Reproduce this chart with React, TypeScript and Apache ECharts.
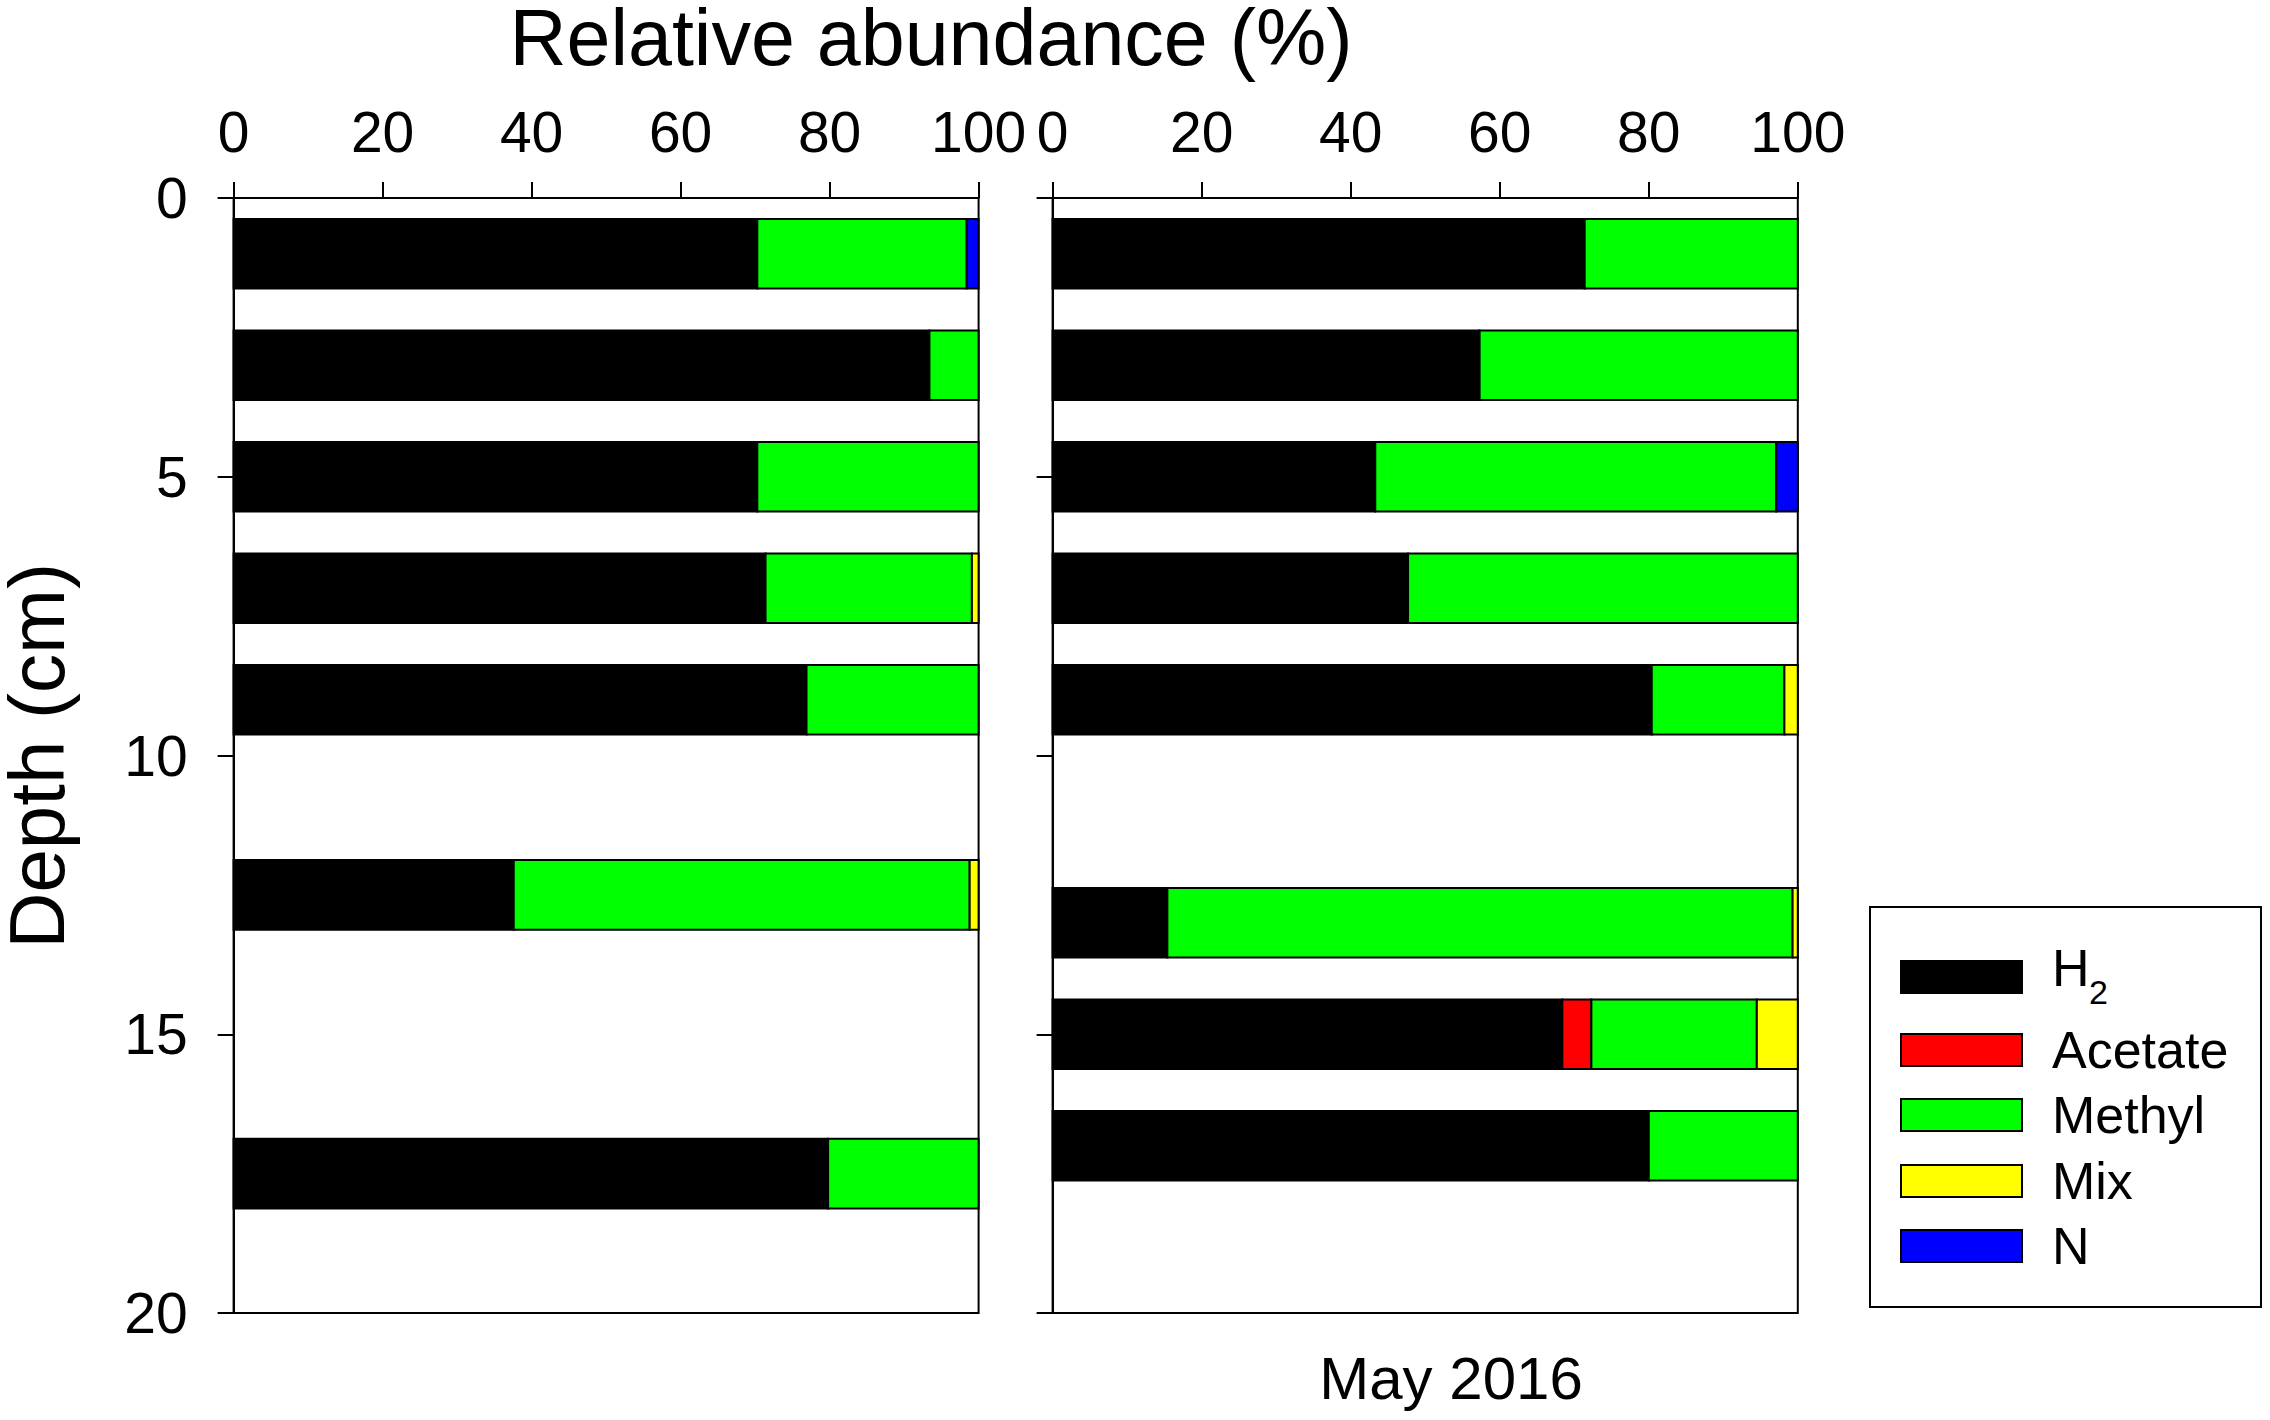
import React, { useEffect, useRef } from "react";
import * as echarts from "echarts";

// ---- data ----
const categories = ["H2", "Acetate", "Methyl", "Mix", "N"];
const categoryColors = ["#000000", "#ff0000", "#00ff00", "#ffff00", "#0000ff"];

const leftDepths = [1, 3, 5, 7, 9, 12.5, 17.5];
const leftH2 = [70.3, 93.4, 70.3, 71.4, 76.9, 37.6, 79.8];
const leftAcetate = [0, 0, 0, 0, 0, 0, 0];
const leftMethyl = [28.1, 6.6, 29.7, 27.7, 23.1, 61.2, 20.2];
const leftMix = [0, 0, 0, 0.9, 0, 1.2, 0];
const leftN = [1.6, 0, 0, 0, 0, 0, 0];

const rightDepths = [1, 3, 5, 7, 9, 13, 15, 17];
const rightH2 = [71.4, 57.3, 43.3, 47.7, 80.4, 15.4, 68.4, 80.0];
const rightAcetate = [0, 0, 0, 0, 0, 0, 3.9, 0];
const rightMethyl = [28.6, 42.7, 53.8, 52.3, 17.8, 83.9, 22.2, 20.0];
const rightMix = [0, 0, 0, 0, 1.8, 0.7, 5.5, 0];
const rightN = [0, 0, 2.9, 0, 0, 0, 0, 0];

const xTicks = [0, 20, 40, 60, 80, 100];
const depthTicks = [0, 5, 10, 15, 20];

const titleText = "Relative abundance (%)";
const yTitleText = "Depth (cm)";
const panelLabel = "May 2016";

// ---- styling / layout constants ----
const FONT = "'Liberation Sans', Arial, Helvetica, sans-serif";
const BAR_HALF = 0.625; // half bar thickness in cm

function buildSeries(
  depths: number[],
  parts: number[][],
  gridIdx: number
): any[] {
  const out: any[] = [];
  parts.forEach((vals, k) => {
    const data: number[][] = [];
    depths.forEach((d, i) => {
      let start = 0;
      for (let j = 0; j < k; j++) start += parts[j][i];
      const end = start + vals[i];
      if (vals[i] > 0) data.push([start, end, d]);
    });
    const color = categoryColors[k];
    out.push({
      type: "custom",
      name: categories[k],
      xAxisIndex: gridIdx,
      yAxisIndex: gridIdx,
      encode: { x: [0, 1], y: 2 },
      clip: false,
      itemStyle: { color },
      data,
      renderItem: (_params: any, api: any) => {
        const s = api.value(0);
        const e = api.value(1);
        const d = api.value(2);
        const p0 = api.coord([s, d - BAR_HALF]);
        const p1 = api.coord([e, d + BAR_HALF]);
        return {
          type: "rect",
          shape: {
            x: Math.min(p0[0], p1[0]),
            y: Math.min(p0[1], p1[1]),
            width: Math.abs(p1[0] - p0[0]),
            height: Math.abs(p1[1] - p0[1]),
          },
          style: { fill: color, stroke: "#000", lineWidth: 2 },
        };
      },
    });
  });
  return out;
}

function makeXAxis(gridIndex: number) {
  return {
    type: "value",
    gridIndex,
    position: "top",
    min: xTicks[0],
    max: xTicks[xTicks.length - 1],
    interval: xTicks[1] - xTicks[0],
    axisLine: { show: true, onZero: false, lineStyle: { color: "#000", width: 2 } },
    axisTick: { show: true, inside: false, length: 16, lineStyle: { color: "#000", width: 2 } },
    axisLabel: { show: true, fontSize: 57, color: "#000", fontFamily: FONT, margin: 38 },
    splitLine: { show: false },
  };
}

function makeYAxis(gridIndex: number, showLabels: boolean) {
  return {
    type: "value",
    gridIndex,
    inverse: true,
    min: depthTicks[0],
    max: depthTicks[depthTicks.length - 1],
    interval: depthTicks[1] - depthTicks[0],
    axisLine: { show: true, onZero: false, lineStyle: { color: "#000", width: 2 } },
    axisTick: { show: true, inside: false, length: 16, lineStyle: { color: "#000", width: 2 } },
    axisLabel: { show: showLabels, fontSize: 57, color: "#000", fontFamily: FONT, margin: 46 },
    splitLine: { show: false },
  };
}

export default function App() {
  const ref = useRef<HTMLDivElement>(null);

  useEffect(() => {
    if (!ref.current) return;
    const chart = echarts.init(ref.current, undefined, { renderer: "svg" });

    const leftSeries = buildSeries(
      leftDepths,
      [leftH2, leftAcetate, leftMethyl, leftMix, leftN],
      0
    );
    const rightSeries = buildSeries(
      rightDepths,
      [rightH2, rightAcetate, rightMethyl, rightMix, rightN],
      1
    );

    // legend drawn with graphic elements
    const legendX = 1870;
    const legendY = 907;
    const swatchX = 1901;
    const swatchW = 121;
    const swatchH = 32;
    const rowCenters = [977, 1050, 1115, 1181, 1246];
    const legendEls: any[] = [
      {
        type: "rect",
        shape: { x: legendX, y: legendY, width: 391, height: 400 },
        style: { fill: "#fff", stroke: "#000", lineWidth: 2 },
      },
    ];
    categories.forEach((name, i) => {
      legendEls.push({
        type: "rect",
        shape: { x: swatchX, y: rowCenters[i] - swatchH / 2, width: swatchW, height: swatchH },
        style: { fill: categoryColors[i], stroke: "#000", lineWidth: 2 },
      });
      if (name === "H2") {
        legendEls.push({
          type: "text",
          x: 2052,
          y: 968,
          style: {
            text: "H",
            font: `52px ${FONT}`,
            fill: "#000",
            textAlign: "left",
            textVerticalAlign: "middle",
          },
        });
        legendEls.push({
          type: "text",
          x: 2089,
          y: 992,
          style: {
            text: "2",
            font: `34px ${FONT}`,
            fill: "#000",
            textAlign: "left",
            textVerticalAlign: "middle",
          },
        });
      } else {
        legendEls.push({
          type: "text",
          x: 2052,
          y: rowCenters[i],
          style: {
            text: name,
            font: `52px ${FONT}`,
            fill: "#000",
            textAlign: "left",
            textVerticalAlign: "middle",
          },
        });
      }
    });

    const option: any = {
      animation: false,
      backgroundColor: "#fff",
      grid: [
        { left: 233.6, top: 198, width: 745, height: 1115, show: true, borderColor: "#000", borderWidth: 2, backgroundColor: "transparent" },
        { left: 1052.6, top: 198, width: 745.2, height: 1115, show: true, borderColor: "#000", borderWidth: 2, backgroundColor: "transparent" },
      ],
      xAxis: [makeXAxis(0), makeXAxis(1)],
      yAxis: [makeYAxis(0, true), makeYAxis(1, false)],
      series: [...leftSeries, ...rightSeries],
      graphic: [
        {
          type: "text",
          x: 931,
          y: 37,
          style: {
            text: titleText,
            font: `79px ${FONT}`,
            lineHeight: 60,
            fill: "#000",
            textAlign: "center",
            textVerticalAlign: "middle",
          },
        },
        {
          type: "text",
          x: 37,
          y: 756,
          rotation: Math.PI / 2,
          style: {
            text: yTitleText,
            font: `78px ${FONT}`,
            lineHeight: 60,
            fill: "#000",
            textAlign: "center",
            textVerticalAlign: "middle",
          },
        },
        {
          type: "text",
          x: 1451,
          y: 1378,
          style: {
            text: panelLabel,
            font: `60px ${FONT}`,
            fill: "#000",
            textAlign: "center",
            textVerticalAlign: "middle",
          },
        },
        ...legendEls,
      ],
    };

    chart.setOption(option);
    return () => {
      chart.dispose();
    };
  }, []);

  return (
    <div
      ref={ref}
      style={{ position: "absolute", left: 0, top: 0, width: 2270, height: 1420, background: "#fff" }}
    />
  );
}
